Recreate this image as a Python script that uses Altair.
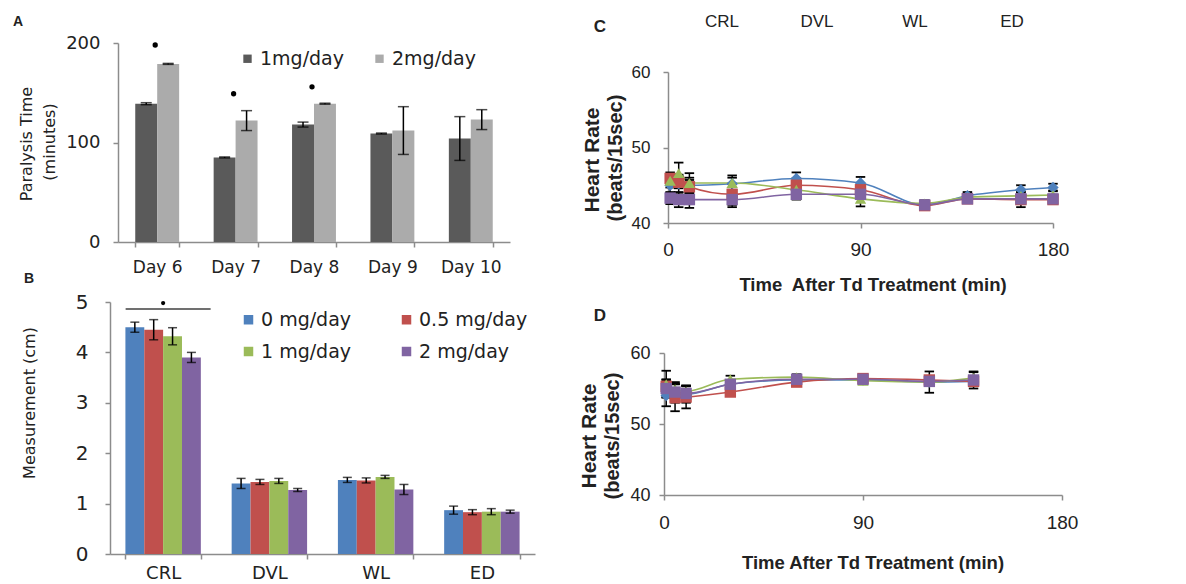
import altair as alt
import pandas as pd

# ---------------- Panel A data ----------------
days = ["Day 6", "Day 7", "Day 8", "Day 9", "Day 10"]
doses_a = ["1mg/day", "2mg/day"]
para_1mg = [139, 85, 118, 109, 104]
para_1mg_err = [1, 0.5, 2.5, 0.5, 22]
para_2mg = [179, 122, 139, 112, 123]
para_2mg_err = [0.5, 10, 0.5, 24, 10]
sig_a_days = ["Day 6", "Day 7", "Day 8"]
sig_a_vals = [198, 149, 156]

# ---------------- Panel B data ----------------
parts = ["CRL", "DVL", "WL", "ED"]
doses_b = ["0 mg/day", "0.5 mg/day", "1 mg/day", "2 mg/day"]
meas_0 = [4.50, 1.40, 1.47, 0.87]
meas_05 = [4.45, 1.43, 1.46, 0.83]
meas_1 = [4.32, 1.45, 1.53, 0.84]
meas_2 = [3.90, 1.27, 1.28, 0.84]
err_0 = [0.10, 0.10, 0.05, 0.08]
err_05 = [0.20, 0.05, 0.05, 0.05]
err_1 = [0.17, 0.05, 0.03, 0.06]
err_2 = [0.10, 0.03, 0.10, 0.03]
sig_b_part = ["CRL"]
sig_b_line = [4.86]
sig_b_dot = [4.98]

# ---------------- Panel C data ----------------
times_c = [1, 5, 10, 30, 60, 90, 120, 140, 165, 180]
hr_c_0 = [45.0, 45.2, 45.0, 45.2, 45.9, 45.3, 42.4, 43.6, 44.4, 44.7]
hr_c_05 = [45.9, 45.4, 44.8, 43.8, 45.0, 44.4, 42.3, 43.2, 43.1, 43.1]
hr_c_1 = [45.6, 46.6, 45.3, 45.3, 44.4, 43.2, 42.6, 43.4, 43.6, 43.7]
hr_c_2 = [43.3, 43.1, 43.1, 43.1, 43.8, 43.8, 42.4, 43.2, 43.2, 43.2]
err_c_0 = [1.0, 1.2, 1.0, 0.8, 0.8, 0.8, 0.4, 0.5, 0.6, 0.5]
err_c_05 = [0.8, 0.8, 0.9, 1.4, 0.9, 0.7, 0.5, 0.5, 1.0, 0.5]
err_c_1 = [0.9, 1.4, 1.3, 1.0, 1.2, 1.0, 0.4, 0.5, 0.5, 0.6]
err_c_2 = [0.8, 1.0, 1.1, 1.0, 0.7, 0.6, 0.4, 0.4, 0.4, 0.4]

# ---------------- Panel D data ----------------
times_d = [1, 5, 10, 30, 60, 90, 120, 140]
hr_d_0 = [54.0, 54.3, 54.2, 55.6, 56.2, 56.2, 55.9, 56.0]
hr_d_05 = [55.3, 53.7, 53.8, 54.5, 55.9, 56.4, 56.2, 56.0]
hr_d_1 = [55.6, 54.9, 54.6, 56.3, 56.6, 56.1, 55.9, 56.5]
hr_d_2 = [55.0, 54.5, 54.3, 55.6, 56.3, 56.3, 56.0, 56.2]
err_d_0 = [1.5, 1.3, 1.2, 0.5, 0.4, 0.4, 0.5, 0.5]
err_d_05 = [1.0, 1.9, 1.6, 0.5, 0.5, 0.5, 0.5, 0.5]
err_d_1 = [1.9, 1.0, 0.8, 0.5, 0.4, 0.4, 1.5, 0.8]
err_d_2 = [1.2, 1.2, 1.0, 0.6, 0.4, 0.4, 0.6, 1.2]

# ---------------- styles ----------------
FA = "DejaVu Sans"
FC = "Liberation Sans"
AX = "#8c8c8c"
TXT = "#222222"
GRAYS = ["#5a5a5a", "#ababab"]
COLS = ["#4F81BD", "#C0504D", "#9BBB59", "#8064A2"]
SHAPES = ["diamond", "square", "triangle-up", "square"]


def label(txt, x, y, size, font, weight="normal", angle=0, align="center"):
    return alt.Chart(pd.DataFrame({"t": [txt]})).mark_text(
        fontSize=size, font=font, fontWeight=weight, angle=angle,
        align=align, baseline="middle", color=TXT
    ).encode(text="t:N", x=alt.value(x), y=alt.value(y))


def axis_kw(font, size, pad, **kw):
    d = dict(labelFont=font, labelFontSize=size, labelColor=TXT, labelPadding=pad,
             tickSize=5, tickColor=AX, tickWidth=1.5, domainColor=AX, domainWidth=1.5,
             grid=False, labelFlush=False, labelOverlap=False)
    d.update(kw)
    return d


# ================= Panel A =================
dfA = pd.DataFrame({
    "day": days * 2,
    "dose": [doses_a[0]] * len(days) + [doses_a[1]] * len(days),
    "val": para_1mg + para_2mg,
    "err": para_1mg_err + para_2mg_err,
})
dfA["lo"] = dfA["val"] - dfA["err"]
dfA["hi"] = dfA["val"] + dfA["err"]
dfAsig = pd.DataFrame({"day": sig_a_days, "val": sig_a_vals})

xA = alt.X("day:N", sort=days, title=None,
           scale=alt.Scale(range=[8, 400], paddingInner=0.44, paddingOuter=0.22),
           axis=alt.Axis(labelAngle=0, tickBand="extent", **axis_kw(FA, 17, 12)))
xoA = alt.XOffset("dose:N", sort=doses_a, scale=alt.Scale(paddingInner=0, paddingOuter=0))


def yA(field):
    return alt.Y(field, title=None, scale=alt.Scale(domain=[0, 200], nice=False),
                 axis=alt.Axis(values=[0, 100, 200], offset=-8, **axis_kw(FA, 18, 13)))


barsA = alt.Chart(dfA).mark_bar().encode(
    x=xA, xOffset=xoA, y=yA("val:Q"),
    color=alt.Color("dose:N", sort=doses_a,
                    scale=alt.Scale(domain=doses_a, range=GRAYS),
                    legend=alt.Legend(title=None, orient="none", legendX=128, legendY=6,
                                      direction="horizontal", symbolType="square",
                                      symbolSize=70, symbolStrokeWidth=0,
                                      labelFont=FA, labelFontSize=19, labelColor=TXT,
                                      labelOffset=3, columnPadding=25)))
errA = alt.Chart(dfA).mark_rule(color="black", strokeWidth=1.5).encode(
    x=xA, xOffset=xoA, y=yA("lo:Q"), y2="hi:Q")
capA_lo = alt.Chart(dfA).mark_tick(color="black", size=11, thickness=1.5).encode(
    x=xA, xOffset=xoA, y=yA("lo:Q"))
capA_hi = alt.Chart(dfA).mark_tick(color="black", size=11, thickness=1.5).encode(
    x=xA, xOffset=xoA, y=yA("hi:Q"))
sigA = alt.Chart(dfAsig).mark_point(filled=True, color="black", size=28, opacity=1, xOffset=-2).encode(
    x=xA, y=yA("val:Q"))

panelA = alt.layer(
    barsA, errA, capA_lo, capA_hi, sigA,
    label("A", -97, -21, 14, FC, "bold", align="left"),
    label("Paralysis Time", -83, 101, 16, FA, angle=270),
    label("(minutes)", -60, 99, 16, FA, angle=270),
).properties(width=429, height=199)

# ================= Panel B =================
meas_all = [meas_0, meas_05, meas_1, meas_2]
err_all = [err_0, err_05, err_1, err_2]
rows = []
for d, m, e in zip(doses_b, meas_all, err_all):
    for p, v, ee in zip(parts, m, e):
        rows.append({"part": p, "dose": d, "val": v, "lo": v - ee, "hi": v + ee})
dfB = pd.DataFrame(rows)
dfBsig = pd.DataFrame({"part": sig_b_part, "line": sig_b_line, "dot": sig_b_dot})

# legend fills column by column: order the colour domain so rows read 0 / 0.5, 1 / 2
legend_order_b = [doses_b[0], doses_b[2], doses_b[1], doses_b[3]]
legend_cols_b = [COLS[0], COLS[2], COLS[1], COLS[3]]

xB = alt.X("part:N", sort=parts, title=None,
           scale=alt.Scale(paddingInner=0.29, paddingOuter=0.145),
           axis=alt.Axis(labelAngle=0, tickBand="extent", **axis_kw(FA, 18, 5)))
xoB = alt.XOffset("dose:N", sort=doses_b, scale=alt.Scale(paddingInner=0, paddingOuter=0))


def yB(field):
    return alt.Y(field, title=None, scale=alt.Scale(domain=[0, 5], nice=False),
                 axis=alt.Axis(values=[0, 1, 2, 3, 4, 5], **axis_kw(FA, 20, 17)))


barsB = alt.Chart(dfB).mark_bar().encode(
    x=xB, xOffset=xoB, y=yB("val:Q"),
    color=alt.Color("dose:N",
                    scale=alt.Scale(domain=legend_order_b, range=legend_cols_b),
                    legend=alt.Legend(title=None, orient="none", legendX=129, legendY=8,
                                      columns=2, symbolType="square",
                                      symbolSize=90, symbolStrokeWidth=0,
                                      labelFont=FA, labelFontSize=19, labelColor=TXT,
                                      labelOffset=3, columnPadding=45, rowPadding=12)))
errB = alt.Chart(dfB).mark_rule(color="black", strokeWidth=1.5).encode(
    x=xB, xOffset=xoB, y=yB("lo:Q"), y2="hi:Q")
capB_lo = alt.Chart(dfB).mark_tick(color="black", size=9, thickness=1.5).encode(
    x=xB, xOffset=xoB, y=yB("lo:Q"))
capB_hi = alt.Chart(dfB).mark_tick(color="black", size=9, thickness=1.5).encode(
    x=xB, xOffset=xoB, y=yB("hi:Q"))
sigB_line = alt.Chart(dfBsig).mark_tick(color="#333333", size=85, thickness=2, xOffset=5).encode(
    x=xB, y=yB("line:Q"))
sigB_dot = alt.Chart(dfBsig).mark_point(filled=True, color="black", size=18, opacity=1).encode(
    x=xB, y=yB("dot:Q"))

panelB = alt.layer(
    barsB, errB, capB_lo, capB_hi, sigB_line, sigB_dot,
    label("B", -81, -23, 14, FC, "bold"),
    label("Measurement (cm)", -80, 101, 16, FA, angle=270),
).properties(width=425, height=252)


# ================= Panels C / D =================
def long_hr(times, series, errs):
    out = []
    for d, s, e in zip(doses_b, series, errs):
        for t, v, ee in zip(times, s, e):
            out.append({"t": t, "dose": d, "hr": v, "lo": v - ee, "hi": v + ee})
    return pd.DataFrame(out)


def hr_panel(df, width, height, xrange, yrange, yoffset, xlab, ylab, xpad, ypad, extra):
    xe = alt.X("t:Q", title=None,
               scale=alt.Scale(domain=[0, 180], range=xrange, nice=False, zero=False),
               axis=alt.Axis(values=[0, 90, 180], **axis_kw(FC, xlab, xpad)))

    def ye(field):
        return alt.Y(field, title=None,
                     scale=alt.Scale(domain=[40, 60], range=yrange, nice=False, zero=False),
                     axis=alt.Axis(values=[40, 50, 60], offset=yoffset, **axis_kw(FC, ylab, ypad)))

    col = alt.Color("dose:N", sort=doses_b, scale=alt.Scale(domain=doses_b, range=COLS), legend=None)
    lines = alt.Chart(df).mark_line(strokeWidth=1.6, interpolate="monotone").encode(
        x=xe, y=ye("hr:Q"), color=col, detail="dose:N")
    errs = alt.Chart(df).mark_rule(color="black", strokeWidth=1.5).encode(
        x=xe, y=ye("lo:Q"), y2="hi:Q")
    cap_lo = alt.Chart(df).mark_point(shape="M-1,0L1,0", filled=False, color="black",
                                      size=90, strokeWidth=1.8, opacity=1).encode(x=xe, y=ye("lo:Q"))
    cap_hi = alt.Chart(df).mark_point(shape="M-1,0L1,0", filled=False, color="black",
                                      size=90, strokeWidth=1.8, opacity=1).encode(x=xe, y=ye("hi:Q"))
    pts = alt.Chart(df).mark_point(filled=True, size=130, opacity=1).encode(
        x=xe, y=ye("hr:Q"), color=col,
        shape=alt.Shape("dose:N", sort=doses_b, scale=alt.Scale(domain=doses_b, range=SHAPES), legend=None))
    return alt.layer(lines, errs, cap_lo, cap_hi, pts, *extra).properties(width=width, height=height)


dfC = long_hr(times_c, [hr_c_0, hr_c_05, hr_c_1, hr_c_2], [err_c_0, err_c_05, err_c_1, err_c_2])
dfD = long_hr(times_d, [hr_d_0, hr_d_05, hr_d_1, hr_d_2], [err_d_0, err_d_05, err_d_1, err_d_2])

panelC = hr_panel(dfC, 389, 180, [4, 389], [180, 29], -4, 19, 17, 12, 13, [
    label("C", -64, -16, 17, FC, "bold"),
    label("CRL", 58, -21, 17, FC),
    label("DVL", 153, -21, 17, FC),
    label("WL", 251, -21, 17, FC),
    label("ED", 348, -21, 17, FC),
    label("Heart Rate", -71, 117, 21, FC, "bold", angle=270),
    label("(beats/15sec)", -48, 115, 20, FC, "bold", angle=270),
    label("Time\u00a0 After Td Treatment (min)", 209, 242, 18.5, FC, "bold"),
])

panelD = hr_panel(dfD, 398, 193, [0, 398], [193, 51], 0, 19, 18, 13, 9, [
    label("D", -64, 14, 17, FC, "bold"),
    label("Heart Rate", -74, 134, 21, FC, "bold", angle=270),
    label("(beats/15sec)", -51, 134, 20, FC, "bold", angle=270),
    label("Time After Td Treatment (min)", 209, 261, 18.5, FC, "bold"),
])

chart = alt.concat(
    panelA, panelC, panelB, panelD,
    columns=2, spacing={"row": 60, "column": 125}, bounds="flush", align="each",
).resolve_scale(
    color="independent", shape="independent", xOffset="independent"
).resolve_legend(color="independent", shape="independent").properties(
    padding={"left": 5, "top": 5, "right": 5, "bottom": 0}, background="white"
).configure_view(stroke=None).configure_axis(grid=False)

chart.save("out.html", embed_options={"renderer": "svg", "actions": False})
